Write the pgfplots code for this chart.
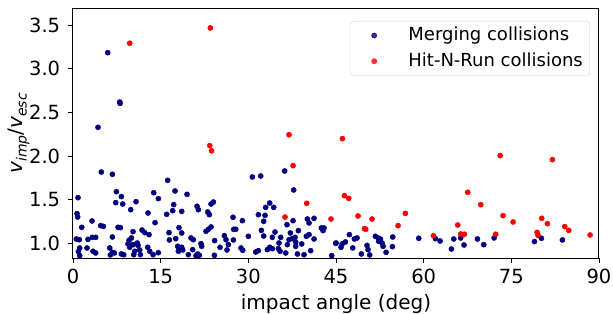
\documentclass[border=0pt]{standalone}
\usepackage{pgfplots}
\pgfplotsset{compat=1.18}
\usepackage{fontspec}
\setmainfont{DejaVu Sans}
\definecolor{mnavy}{RGB}{0,0,128}
\definecolor{mred}{RGB}{255,0,0}
\newcommand{\sub}[1]{\raisebox{-0.22em}{\fontsize{14bp}{16bp}\selectfont\textit{#1}}}
\begin{document}
\fontsize{20bp}{24bp}\selectfont
\begin{tikzpicture}
\begin{axis}[
  scale only axis,
  width=526bp, height=249bp,
  xmin=0, xmax=90, ymin=0.831, ymax=3.687,
  xtick={0,15,30,45,60,75,90},
  ytick={1.0,1.5,2.0,2.5,3.0,3.5},
  yticklabel style={xshift=-1bp, /pgf/number format/.cd, fixed, fixed zerofill, precision=1},
  /pgf/number format/assume math mode=true,
  tick align=outside,
  xtick pos=bottom, ytick pos=left,
  major tick length=5bp,
  tick style={black, line width=0.9bp},
  axis line style={black, line width=1bp},
  ticklabel style={font=\fontsize{19.5bp}{24bp}\selectfont},
  xticklabel style={yshift=1bp},
  label style={font=\fontsize{20bp}{24bp}\selectfont},
  xlabel={impact angle (deg)},
  xlabel style={yshift=3bp},
  ylabel={\textit{v}\sub{imp}/\textit{v}\sub{esc}},
  ylabel style={yshift=-14bp},
  legend style={at={(1,1)}, xshift=-9bp, yshift=-12bp, anchor=north east,
    draw=black!18, rounded corners=3bp, fill=white, fill opacity=0.8, text opacity=1,
    font=\fontsize{18bp}{22bp}\selectfont, row sep=7bp, inner xsep=2bp, inner ysep=5bp,
    nodes={inner xsep=5bp, inner ysep=1bp}},
  legend cell align=left,
  legend image code/.code={\path (0bp,0bp) (51bp,0bp); \draw[#1, only marks] plot coordinates {(22bp,0bp)};},
]
\addplot[only marks, mark=*, mark size=2.6bp, mnavy, mark options={draw=mnavy, fill=mnavy}] table[row sep=\\] {
x y\\
5.94 3.186\\ 8.00 2.620\\ 8.05 2.605\\ 4.28 2.330\\
4.85 1.817\\ 6.74 1.791\\ 0.86 1.523\\ 7.42 1.592\\ 8.28 1.535\\ 7.31 1.466\\
8.51 1.450\\ 10.79 1.477\\ 9.87 1.385\\ 13.81 1.580\\ 14.61 1.512\\ 0.69 1.340\\
0.80 1.301\\ 12.84 1.347\\ 3.26 1.256\\ 14.04 1.236\\ 1.49 1.183\\ 4.74 1.202\\
5.20 1.194\\ 7.71 1.183\\ 8.11 1.179\\ 10.27 1.133\\ 11.81 1.152\\ 12.27 1.122\\
13.01 1.099\\ 0.58 1.049\\ 1.09 1.041\\ 2.57 1.045\\ 3.31 1.068\\ 3.88 1.068\\
6.74 1.072\\ 9.59 1.034\\ 9.99 1.061\\ 1.15 0.946\\ 0.92 0.904\\ 1.15 0.858\\
2.40 0.946\\ 3.43 0.908\\ 3.88 0.889\\ 6.28 0.946\\ 6.74 0.896\\ 6.39 0.866\\
7.08 0.889\\ 8.28 0.877\\ 8.68 0.869\\ 9.42 0.992\\ 9.70 0.954\\ 10.27 0.984\\
11.00 1.003\\ 11.13 0.976\\ 10.56 0.908\\ 10.39 0.869\\ 11.41 0.923\\ 11.53 0.869\\
12.78 0.954\\ 13.13 0.908\\ 13.70 0.869\\ 14.60 0.892\\
16.20 1.722\\ 17.46 1.600\\ 19.51 1.561\\ 17.23 1.443\\ 17.06 1.374\\ 16.03 1.332\\
18.60 1.366\\ 21.22 1.424\\ 21.45 1.385\\ 23.05 1.359\\ 23.33 1.328\\ 23.62 1.450\\
24.02 1.473\\ 27.38 1.298\\ 28.98 1.259\\ 18.14 1.179\\ 18.60 1.118\\ 16.43 1.122\\
16.49 1.038\\ 17.57 1.053\\ 20.19 1.061\\ 20.59 1.041\\ 22.76 1.137\\ 23.16 1.160\\
23.62 1.187\\ 21.90 0.996\\ 22.02 0.965\\ 24.24 1.030\\ 25.90 1.087\\ 26.18 1.041\\
27.50 1.160\\ 27.84 1.160\\ 27.44 1.038\\ 25.16 0.954\\ 26.58 0.984\\ 26.35 0.923\\
28.75 0.946\\ 29.04 0.919\\ 17.91 0.965\\ 18.20 0.938\\ 18.60 0.954\\ 18.77 0.923\\
18.03 0.908\\ 20.48 0.927\\ 21.33 0.877\\ 21.05 0.858\\ 21.62 0.862\\ 19.74 0.869\\
24.19 0.862\\
30.69 1.760\\ 32.12 1.772\\ 36.22 1.829\\ 37.76 1.611\\ 33.66 1.462\\ 32.97 1.412\\
34.34 1.412\\ 31.72 1.328\\ 32.86 1.320\\ 32.63 1.252\\ 37.65 1.259\\ 36.62 1.213\\
40.10 1.278\\ 41.24 1.286\\ 40.39 1.233\\ 42.50 1.175\\ 42.96 1.175\\ 42.78 1.145\\
32.23 1.148\\ 34.57 1.129\\ 34.11 1.068\\ 32.63 1.083\\ 30.00 1.080\\ 35.54 1.068\\
35.25 1.003\\ 38.56 1.145\\ 37.19 1.118\\ 37.54 1.053\\ 36.97 1.041\\ 37.99 1.068\\
38.11 1.015\\ 39.93 1.080\\ 40.39 1.099\\ 41.24 1.049\\ 44.95 0.999\\ 36.68 0.984\\
39.13 0.992\\ 33.66 0.954\\ 34.11 0.938\\ 33.26 0.927\\ 35.14 0.938\\ 35.43 0.908\\
38.11 0.965\\ 31.26 0.900\\ 31.72 0.915\\ 36.40 0.889\\ 38.40 0.877\\ 39.53 0.869\\
40.67 0.915\\ 44.27 0.858\\
47.29 1.099\\ 45.01 1.003\\ 46.04 0.992\\ 46.60 1.015\\ 45.86 0.954\\ 48.15 1.049\\
48.60 1.061\\ 47.86 0.946\\ 51.74 1.080\\ 52.20 1.061\\ 52.60 1.049\\ 52.31 1.023\\
52.88 1.003\\ 53.05 0.965\\ 54.71 1.072\\ 54.65 0.961\\ 50.31 0.976\\ 50.49 0.927\\
50.77 0.866\\ 49.34 0.877\\ 53.57 0.896\\ 59.16 1.057\\
62.01 1.053\\ 62.81 1.026\\ 65.15 1.049\\ 66.34 1.061\\ 64.75 0.934\\ 66.91 0.980\\
69.20 1.049\\ 70.28 0.984\\ 72.05 1.061\\
78.95 1.019\\ 80.15 1.057\\ 83.74 1.038\\
};
\addlegendentry{Merging collisions}
\addplot[only marks, mark=*, mark size=2.6bp, mred, mark options={draw=mred, fill=mred}] table[row sep=\\] {
x y\\
9.70 3.294\\ 23.50 3.470\\ 23.40 2.120\\ 23.70 2.060\\ 36.96 2.245\\ 46.10 2.200\\
37.65 1.890\\ 39.99 1.458\\ 36.28 1.301\\ 44.15 1.278\\ 46.44 1.546\\ 47.18 1.515\\
48.77 1.313\\ 51.17 1.278\\ 56.87 1.343\\ 49.86 1.168\\ 50.09 1.160\\ 55.62 1.202\\
61.67 1.087\\ 67.54 1.584\\ 69.77 1.443\\ 73.59 1.317\\ 65.83 1.210\\ 66.34 1.106\\
66.97 1.103\\ 72.33 1.103\\ 73.10 2.005\\ 82.03 1.959\\ 75.30 1.244\\ 80.20 1.286\\
81.18 1.225\\ 84.14 1.191\\ 84.83 1.148\\ 79.41 1.125\\ 79.58 1.091\\ 88.48 1.095\\
};
\addlegendentry{Hit-N-Run collisions}
\end{axis}
\pgfresetboundingbox
\path (current axis.south west) ++(-73bp,-56bp) rectangle ++(613bp,314bp);
\end{tikzpicture}
\end{document}
